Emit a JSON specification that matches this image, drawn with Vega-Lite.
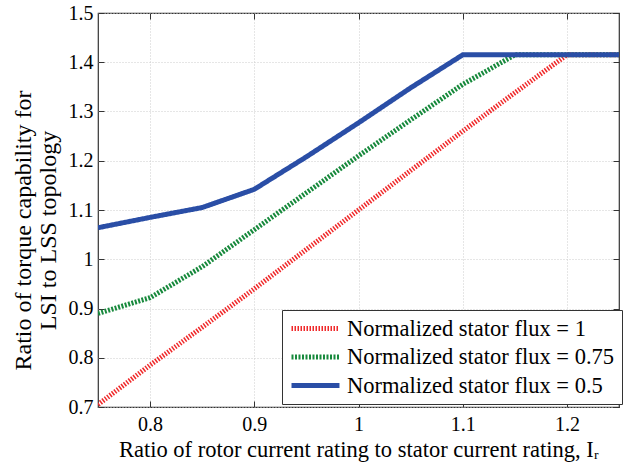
{
  "$schema": "https://vega.github.io/schema/vega-lite/v6.json",
  "width": 521,
  "height": 394,
  "autosize": {"type": "none"},
  "padding": {"left": 98, "top": 13, "right": 15, "bottom": 59},
  "background": "white",
  "config": {
    "font": "Liberation Serif",
    "view": {"stroke": "#333", "strokeWidth": 1.2},
    "axis": {
      "labelFont": "Liberation Serif",
      "titleFont": "Liberation Serif",
      "labelFontSize": 20,
      "labelColor": "black",
      "titleColor": "black",
      "titleFontWeight": "normal",
      "domain": false,
      "tickColor": "#333",
      "tickSize": -6,
      "gridColor": "#cccccc",
      "gridDash": [1, 2],
      "gridWidth": 1,
      "format": "~g"
    },
    "legend": {
      "labelFont": "Liberation Serif",
      "labelFontSize": 22.5,
      "labelColor": "black",
      "labelLimit": 0
    }
  },
  "data": {
    "values": [
      {"series": "Normalized stator flux = 1", "x": 0.75, "y": 0.705},
      {"series": "Normalized stator flux = 1", "x": 0.8, "y": 0.785},
      {"series": "Normalized stator flux = 1", "x": 0.85, "y": 0.862},
      {"series": "Normalized stator flux = 1", "x": 0.9, "y": 0.94},
      {"series": "Normalized stator flux = 1", "x": 0.95, "y": 1.02},
      {"series": "Normalized stator flux = 1", "x": 1.0, "y": 1.1},
      {"series": "Normalized stator flux = 1", "x": 1.05, "y": 1.18},
      {"series": "Normalized stator flux = 1", "x": 1.1, "y": 1.26},
      {"series": "Normalized stator flux = 1", "x": 1.15, "y": 1.338},
      {"series": "Normalized stator flux = 1", "x": 1.2, "y": 1.415},
      {"series": "Normalized stator flux = 1", "x": 1.25, "y": 1.415},
      {"series": "Normalized stator flux = 0.75", "x": 0.75, "y": 0.89},
      {"series": "Normalized stator flux = 0.75", "x": 0.8, "y": 0.922},
      {"series": "Normalized stator flux = 0.75", "x": 0.85, "y": 0.985},
      {"series": "Normalized stator flux = 0.75", "x": 0.9, "y": 1.06},
      {"series": "Normalized stator flux = 0.75", "x": 0.95, "y": 1.135},
      {"series": "Normalized stator flux = 0.75", "x": 1.0, "y": 1.21},
      {"series": "Normalized stator flux = 0.75", "x": 1.05, "y": 1.283},
      {"series": "Normalized stator flux = 0.75", "x": 1.1, "y": 1.355},
      {"series": "Normalized stator flux = 0.75", "x": 1.15, "y": 1.415},
      {"series": "Normalized stator flux = 0.75", "x": 1.2, "y": 1.415},
      {"series": "Normalized stator flux = 0.75", "x": 1.25, "y": 1.415},
      {"series": "Normalized stator flux = 0.5", "x": 0.75, "y": 1.064},
      {"series": "Normalized stator flux = 0.5", "x": 0.8, "y": 1.085},
      {"series": "Normalized stator flux = 0.5", "x": 0.85, "y": 1.105},
      {"series": "Normalized stator flux = 0.5", "x": 0.9, "y": 1.142},
      {"series": "Normalized stator flux = 0.5", "x": 0.95, "y": 1.208},
      {"series": "Normalized stator flux = 0.5", "x": 1.0, "y": 1.277},
      {"series": "Normalized stator flux = 0.5", "x": 1.05, "y": 1.348},
      {"series": "Normalized stator flux = 0.5", "x": 1.1, "y": 1.415},
      {"series": "Normalized stator flux = 0.5", "x": 1.15, "y": 1.415},
      {"series": "Normalized stator flux = 0.5", "x": 1.2, "y": 1.415},
      {"series": "Normalized stator flux = 0.5", "x": 1.25, "y": 1.415}
    ]
  },
  "layer": [
    {
      "mark": {"type": "line", "strokeWidth": 5, "strokeCap": "butt", "clip": true},
      "encoding": {
        "x": {
          "field": "x", "type": "quantitative",
          "scale": {"domain": [0.75, 1.25], "nice": false},
          "axis": {"values": [0.8, 0.9, 1, 1.1, 1.2], "title": "Ratio of rotor current rating to stator current rating, Iᵣ", "titleFontSize": 22.5, "labelPadding": 13, "titlePadding": 4, "labelFlush": false}
        },
        "y": {
          "field": "y", "type": "quantitative",
          "scale": {"domain": [0.7, 1.5], "nice": false, "zero": false},
          "axis": {"values": [0.7, 0.8, 0.9, 1, 1.1, 1.2, 1.3, 1.4, 1.5], "title": ["Ratio of torque capability for", "LSI to LSS topology"], "titleFontSize": 24, "titleLineHeight": 25, "titleY": 217, "labelPadding": 11, "titlePadding": 8, "labelFlush": false}
        },
        "color": {
          "field": "series", "type": "nominal",
          "scale": {
            "domain": ["Normalized stator flux = 1", "Normalized stator flux = 0.75", "Normalized stator flux = 0.5"],
            "range": ["#f0292a", "#17893c", "#2a4ea6"]
          },
          "legend": {
            "title": null, "orient": "none", "legendX": 184, "legendY": 297,
            "fillColor": "white", "strokeColor": "#333", "padding": 7,
            "symbolType": "M-1,0H4.33", "symbolStrokeWidth": 5, "symbolSize": 324,
            "rowPadding": 5.5, "labelOffset": 35
          }
        },
        "strokeDash": {
          "field": "series", "type": "nominal",
          "scale": {
            "domain": ["Normalized stator flux = 1", "Normalized stator flux = 0.75", "Normalized stator flux = 0.5"],
            "range": [[1.5, 1.5], [2, 1.5], [1, 0]]
          },
          "legend": {
            "title": null, "orient": "none", "legendX": 184, "legendY": 297,
            "fillColor": "white", "strokeColor": "#333", "padding": 7,
            "symbolType": "M-1,0H4.33", "symbolStrokeWidth": 5, "symbolSize": 324,
            "rowPadding": 5.5, "labelOffset": 35
          }
        }
      }
    },
    {
      "mark": {"type": "line", "opacity": 0},
      "encoding": {
        "x": {
          "field": "x", "type": "quantitative",
          "scale": {"domain": [0.75, 1.25], "nice": false},
          "axis": {"orient": "top", "values": [0.8, 0.9, 1, 1.1, 1.2], "labels": false, "title": null, "grid": false}
        },
        "y": {
          "field": "y", "type": "quantitative",
          "scale": {"domain": [0.7, 1.5], "nice": false, "zero": false},
          "axis": {"orient": "right", "values": [0.7, 0.8, 0.9, 1, 1.1, 1.2, 1.3, 1.4, 1.5], "labels": false, "title": null, "grid": false}
        }
      }
    }
  ],
  "resolve": {"axis": {"x": "independent", "y": "independent"}}
}
